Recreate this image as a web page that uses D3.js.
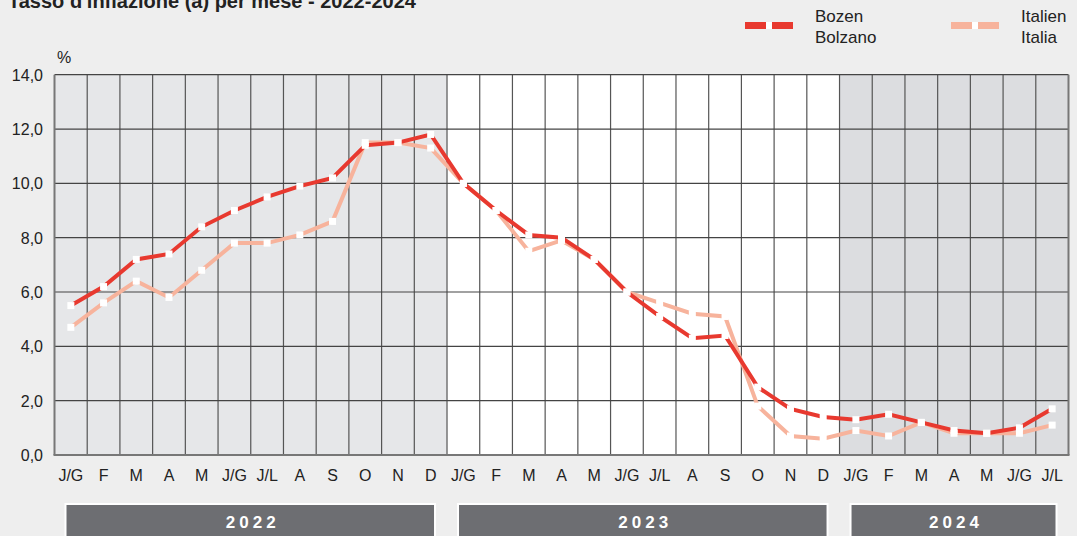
<!DOCTYPE html>
<html>
<head>
<meta charset="utf-8">
<script src="https://d3js.org/d3.v7.min.js"></script>
<style>
  body { margin: 0; background: #eeeeee; }
  svg { display: block; font-family: "Liberation Sans", Arial, sans-serif; }
</style>
</head>
<body>
<svg width="1077" height="536"></svg>
<script>
// months shown on the x axis, grouped by year
var months = ["J/G","F","M","A","M","J/G","J/L","A","S","O","N","D",
              "J/G","F","M","A","M","J/G","J/L","A","S","O","N","D",
              "J/G","F","M","A","M","J/G","J/L"];
var years = ["2022", "2023", "2024"];
var yearMonths = [12, 12, 7];
var yearFill = ["#e6e7e9", "#ffffff", "#dcdde0"];

var bozen  = [5.5, 6.2, 7.2, 7.4, 8.4, 9.0, 9.5, 9.9, 10.2, 11.4, 11.5, 11.8,
              10.0, 9.0, 8.1, 8.0, 7.2, 6.0, 5.1, 4.3, 4.4, 2.5, 1.7, 1.4,
              1.3, 1.5, 1.2, 0.9, 0.8, 1.0, 1.7];
var italia = [4.7, 5.6, 6.4, 5.8, 6.8, 7.8, 7.8, 8.1, 8.6, 11.5, 11.5, 11.3,
              10.0, 9.0, 7.5, 7.9, 7.2, 6.0, 5.6, 5.2, 5.1, 1.8, 0.7, 0.6,
              0.9, 0.7, 1.2, 0.8, 0.8, 0.8, 1.1];
var yTicks = [0, 2, 4, 6, 8, 10, 12, 14];

var red = "#e8392f", salmon = "#f7b39c";

var svg = d3.select("svg");
var idx = d3.range(months.length);

var x = d3.scaleBand().domain(idx).range([54.5, 1068.5]).padding(0);
var y = d3.scaleLinear().domain([0, 14]).range([455, 74.7]);
var cx = function(i) { return x(i) + x.bandwidth() / 2; };

// title (top is cut by the frame, as in the source)
svg.append("text")
   .attr("x", 8).attr("y", 8)
   .attr("font-size", 20).attr("font-weight", "bold").attr("fill", "#222")
   .text("Tasso d'inflazione (a) per mese - 2022-2024");

svg.append("text")
   .attr("x", 57).attr("y", 63)
   .attr("font-size", 16).attr("fill", "#222")
   .text("%");

// year backgrounds
var start = 0;
var yearStart = yearMonths.map(function(n) { var s = start; start += n; return s; });
svg.selectAll(".yearbg")
   .data(years)
   .enter().append("rect")
   .attr("x", function(d, i) { return x(yearStart[i]); })
   .attr("y", y(14))
   .attr("width", function(d, i) { return x.bandwidth() * yearMonths[i]; })
   .attr("height", y(0) - y(14))
   .attr("fill", function(d, i) { return yearFill[i]; });

// grid
svg.append("g")
   .selectAll("line")
   .data(idx.slice(1))
   .enter().append("line")
   .attr("x1", function(i) { return x(i); })
   .attr("x2", function(i) { return x(i); })
   .attr("y1", y(14)).attr("y2", y(0))
   .attr("stroke", "#555").attr("stroke-width", 1.2);

svg.append("g")
   .selectAll("line")
   .data(yTicks.slice(1))
   .enter().append("line")
   .attr("x1", x(0)).attr("x2", x(months.length - 1) + x.bandwidth())
   .attr("y1", function(d) { return y(d); })
   .attr("y2", function(d) { return y(d); })
   .attr("stroke", "#444").attr("stroke-width", 1.2);

// outer frame
var xEnd = x(months.length - 1) + x.bandwidth();
svg.append("line")
   .attr("x1", x(0)).attr("x2", x(0)).attr("y1", y(14)).attr("y2", y(0))
   .attr("stroke", "#777").attr("stroke-width", 2);
svg.append("line")
   .attr("x1", xEnd).attr("x2", xEnd)
   .attr("y1", y(14)).attr("y2", y(0))
   .attr("stroke", "#777").attr("stroke-width", 2);
svg.append("line")
   .attr("x1", x(0) - 1).attr("x2", xEnd + 1)
   .attr("y1", y(0)).attr("y2", y(0))
   .attr("stroke", "#777").attr("stroke-width", 2);

// y axis labels
svg.append("g")
   .selectAll("text")
   .data(yTicks)
   .enter().append("text")
   .attr("x", 43)
   .attr("y", function(d) { return y(d) + 6; })
   .attr("text-anchor", "end")
   .attr("font-size", 16).attr("fill", "#222")
   .text(function(d) { return d3.format(".1f")(d).replace(".", ","); });

// month labels
svg.append("g")
   .selectAll("text")
   .data(idx)
   .enter().append("text")
   .attr("x", function(i) { return cx(i); })
   .attr("y", 481)
   .attr("text-anchor", "middle")
   .attr("font-size", 16).attr("fill", "#222")
   .text(function(i) { return months[i]; });

// year boxes
var yb = svg.append("g");
yb.selectAll("rect")
  .data(years)
  .enter().append("rect")
  .attr("x", function(d, i) { return x(yearStart[i]) + 11; })
  .attr("y", 504)
  .attr("width", function(d, i) { return x.bandwidth() * yearMonths[i] - 23; })
  .attr("height", 40)
  .attr("fill", "#6d6e72").attr("stroke", "#fff").attr("stroke-width", 2);
yb.selectAll("text")
  .data(years)
  .enter().append("text")
  .attr("x", function(d, i) { return x(yearStart[i]) + x.bandwidth() * yearMonths[i] / 2 + 2; })
  .attr("y", 528)
  .attr("text-anchor", "middle")
  .attr("font-size", 17).attr("font-weight", "bold").attr("fill", "#fff")
  .attr("letter-spacing", 4)
  .text(function(d) { return d; });

// lines
var line = d3.line().x(function(d, i) { return cx(i); }).y(function(d) { return y(d); });
[[italia, salmon], [bozen, red]].forEach(function(s) {
  svg.append("path")
     .datum(s[0])
     .attr("d", line)
     .attr("fill", "none").attr("stroke", s[1]).attr("stroke-width", 4);
});
[italia, bozen].forEach(function(s) {
  svg.append("g")
     .selectAll("rect")
     .data(s)
     .enter().append("rect")
     .attr("x", function(d, i) { return cx(i) - 3.5; })
     .attr("y", function(d) { return y(d) - 3.5; })
     .attr("width", 7).attr("height", 7)
     .attr("fill", "#fff");
});

// legend
var legend = [["Bozen", "Bolzano", red, 745], ["Italien", "Italia", salmon, 951]];
legend.forEach(function(l) {
  var g = svg.append("g").attr("transform", "translate(" + l[3] + ",0)");
  g.append("rect").attr("x", 0).attr("y", 22).attr("width", 48).attr("height", 7).attr("fill", l[2]);
  g.append("rect").attr("x", 21).attr("y", 22).attr("width", 6).attr("height", 7).attr("fill", "#fff");
  g.append("text").attr("x", 70).attr("y", 22).attr("font-size", 17).attr("fill", "#222").text(l[0]);
  g.append("text").attr("x", 70).attr("y", 43).attr("font-size", 17).attr("fill", "#222").text(l[1]);
});
</script>
</body>
</html>
